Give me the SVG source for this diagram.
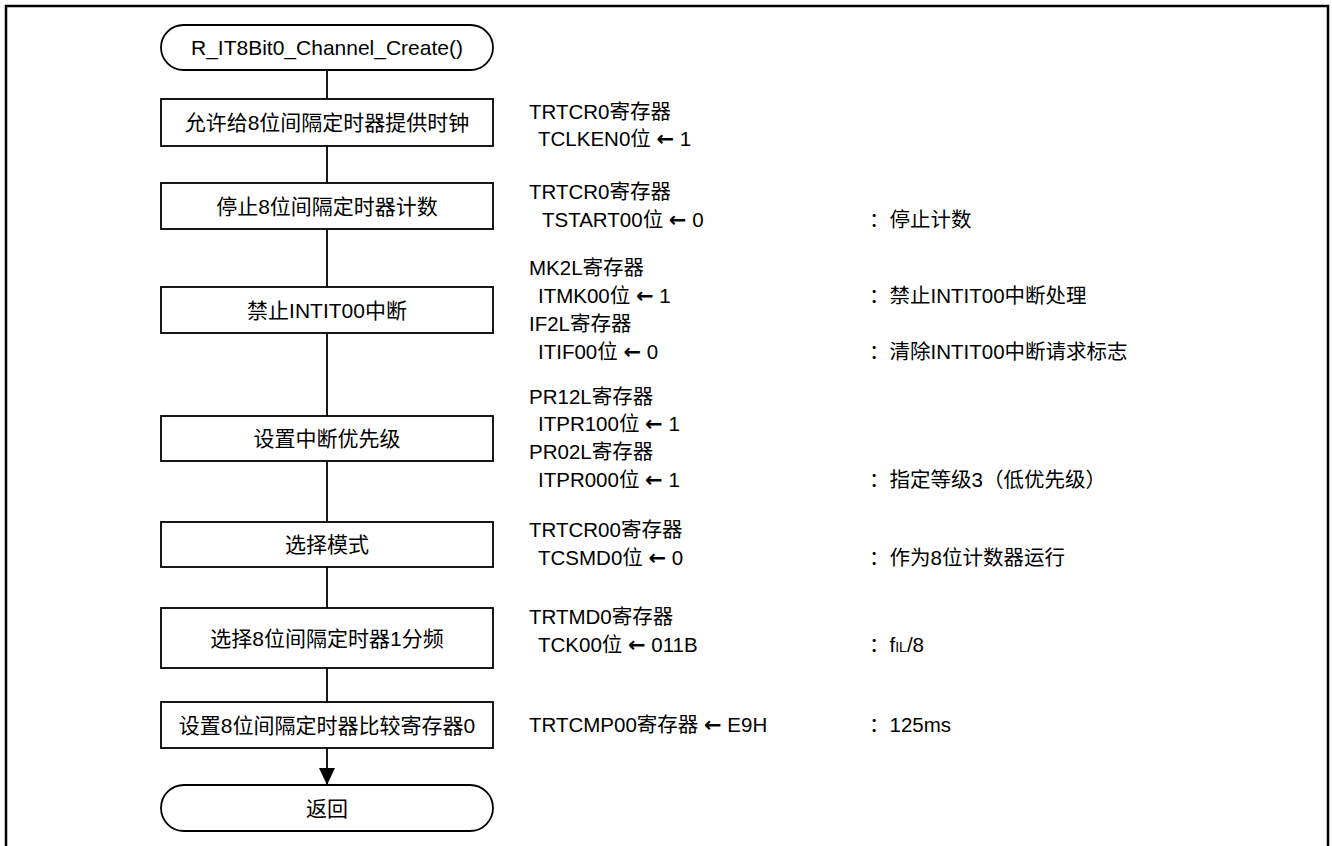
<svg xmlns="http://www.w3.org/2000/svg" width="1332" height="846" viewBox="0 0 1332 846">
<defs>
<style>
.frame{fill:none;stroke:#000;stroke-width:2.5}
.box{fill:#fff;stroke:#000;stroke-width:1.8}
.ln{fill:none;stroke:#000;stroke-width:1.8}
.bt{font-family:"Liberation Sans","Noto Sans CJK SC",sans-serif;font-size:21px;fill:#000;text-anchor:middle}
.nt{font-family:"Liberation Sans","Noto Sans CJK SC",sans-serif;font-size:20.5px;fill:#000}
.ar{font-family:"DejaVu Sans",sans-serif;font-size:21px;font-weight:bold}
</style>
<marker id="ah" markerWidth="18" markerHeight="16" refX="17" refY="8" orient="auto" markerUnits="userSpaceOnUse" viewBox="0 0 18 16">
<path d="M0,0 L17,8 L0,16 Z" fill="#000"/>
</marker>
</defs>
<rect width="1332" height="846" fill="#fff"/>
<rect class="frame" x="6" y="6" width="1322" height="850"/>
<g id="connectors">
<line class="ln" x1="327" y1="70" x2="327" y2="99"/>
<line class="ln" x1="327" y1="146" x2="327" y2="183"/>
<line class="ln" x1="327" y1="229" x2="327" y2="287"/>
<line class="ln" x1="327" y1="333" x2="327" y2="416"/>
<line class="ln" x1="327" y1="461" x2="327" y2="522"/>
<line class="ln" x1="327" y1="567" x2="327" y2="608"/>
<line class="ln" x1="327" y1="668" x2="327" y2="702"/>
<line class="ln" x1="327" y1="748" x2="327" y2="785" marker-end="url(#ah)"/>
</g>
<g id="start">
<rect class="box" x="161" y="25" width="332" height="45" rx="22.5" ry="22.5"/>
<text class="bt" x="327" y="55">R_IT8Bit0_Channel_Create()</text>
</g>
<g id="step1">
<rect class="box" x="161" y="99" width="332" height="47"/>
<text class="bt" x="327" y="130">允许给8位间隔定时器提供时钟</text>
</g>
<g id="step2">
<rect class="box" x="161" y="183" width="332" height="46"/>
<text class="bt" x="327" y="213.5">停止8位间隔定时器计数</text>
</g>
<g id="step3">
<rect class="box" x="161" y="287" width="332" height="46"/>
<text class="bt" x="327" y="317.5">禁止INTIT00中断</text>
</g>
<g id="step4">
<rect class="box" x="161" y="416" width="332" height="45"/>
<text class="bt" x="327" y="446">设置中断优先级</text>
</g>
<g id="step5">
<rect class="box" x="161" y="522" width="332" height="45"/>
<text class="bt" x="327" y="552">选择模式</text>
</g>
<g id="step6">
<rect class="box" x="161" y="608" width="332" height="60"/>
<text class="bt" x="327" y="645.5">选择8位间隔定时器1分频</text>
</g>
<g id="step7">
<rect class="box" x="161" y="702" width="332" height="46"/>
<text class="bt" x="327" y="732.5">设置8位间隔定时器比较寄存器0</text>
</g>
<g id="end">
<rect class="box" x="161" y="785" width="332" height="46" rx="23" ry="23"/>
<text class="bt" x="327" y="815.5">返回</text>
</g>
<g id="notes">
<text class="nt" x="529" y="119">TRTCR0寄存器</text>
<text class="nt" x="538" y="146">TCLKEN0位 <tspan class="ar">←</tspan> 1</text>
<text class="nt" x="529" y="199">TRTCR0寄存器</text>
<text class="nt" x="542" y="227">TSTART00位 <tspan class="ar">←</tspan> 0</text>
<text class="nt" x="869" y="227">：停止计数</text>
<text class="nt" x="529" y="275">MK2L寄存器</text>
<text class="nt" x="538" y="303">ITMK00位 <tspan class="ar">←</tspan> 1</text>
<text class="nt" x="869" y="303">：禁止INTIT00中断处理</text>
<text class="nt" x="529" y="331">IF2L寄存器</text>
<text class="nt" x="538" y="359">ITIF00位 <tspan class="ar">←</tspan> 0</text>
<text class="nt" x="869" y="359">：清除INTIT00中断请求标志</text>
<text class="nt" x="529" y="404">PR12L寄存器</text>
<text class="nt" x="538" y="431">ITPR100位 <tspan class="ar">←</tspan> 1</text>
<text class="nt" x="529" y="459">PR02L寄存器</text>
<text class="nt" x="538" y="487">ITPR000位 <tspan class="ar">←</tspan> 1</text>
<text class="nt" x="869" y="487">：指定等级3（低优先级）</text>
<text class="nt" x="529" y="537">TRTCR00寄存器</text>
<text class="nt" x="538" y="565">TCSMD0位 <tspan class="ar">←</tspan> 0</text>
<text class="nt" x="869" y="565">：作为8位计数器运行</text>
<text class="nt" x="529" y="624">TRTMD0寄存器</text>
<text class="nt" x="538" y="652">TCK00位 <tspan class="ar">←</tspan> 011B</text>
<text class="nt" x="869" y="652">：f<tspan font-size="14">IL</tspan>/8</text>
<text class="nt" x="529" y="732">TRTCMP00寄存器 <tspan class="ar">←</tspan> E9H</text>
<text class="nt" x="869" y="732">：125ms</text>
</g>
</svg>
